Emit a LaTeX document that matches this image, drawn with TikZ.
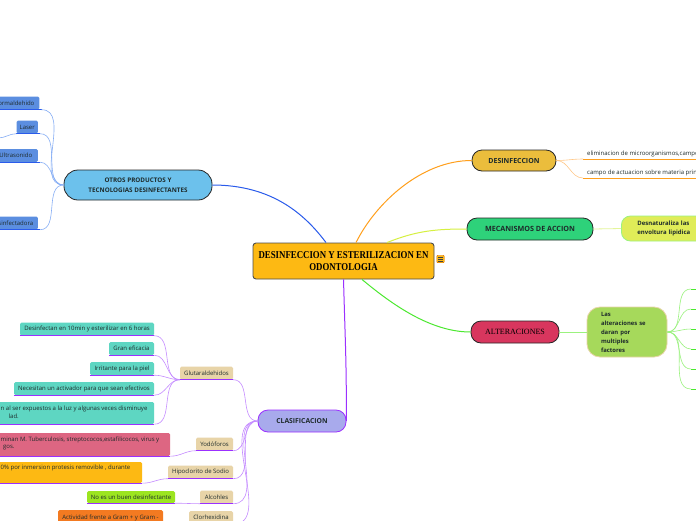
\documentclass[tikz,border=0pt]{standalone}
\usepackage{fontspec}
\setmainfont{Open Sans}
\newfontfamily\titlefont[FakeStretch=0.84]{Liberation Serif}
\newfontfamily\slabfont{Liberation Serif}
\newcommand\tinyfs{\fontsize{6}{7.5}\selectfont}
\definecolor{corange}{HTML}{FDB913}
\definecolor{cdes}{HTML}{EBBD3C}
\definecolor{cmec}{HTML}{2ED27A}
\definecolor{calt}{HTML}{D8365E}
\definecolor{cotr}{HTML}{6CC1EC}
\definecolor{ccla}{HTML}{A8AAEC}
\definecolor{cpur}{HTML}{9B30FF}
\definecolor{clpur}{HTML}{C58CFF}
\definecolor{cblue}{HTML}{2A5BEB}
\definecolor{clblue}{HTML}{86AEF5}
\definecolor{cbbox}{HTML}{5B8EE0}
\definecolor{cora}{HTML}{FF9F1C}
\definecolor{clora}{HTML}{FFC888}
\definecolor{cyg}{HTML}{D6F041}
\definecolor{clyg}{HTML}{E4F59A}
\definecolor{cgrn}{HTML}{4CE830}
\definecolor{clgrn}{HTML}{9BF27E}
\definecolor{cteal}{HTML}{5ED6C2}
\definecolor{cpink}{HTML}{DD6682}
\definecolor{clime}{HTML}{9CE520}
\definecolor{cor2}{HTML}{F37A21}
\definecolor{ctan}{HTML}{E8D4A8}
\definecolor{cmecc}{HTML}{E0EC58}
\definecolor{caltc}{HTML}{A6D95B}
\definecolor{txt}{HTML}{1E2B2B}
\definecolor{cborder}{HTML}{4D4D4D}
\begin{document}
\begin{tikzpicture}[x=1pt,y=-1pt,
  central/.style={draw=cborder, line width=0.9pt, fill=corange, rounded corners=3pt,
    minimum width=181, minimum height=36, align=center, inner sep=0pt, text=black,
    font=\titlefont\bfseries\fontsize{10.5}{11.5}\selectfont},
  mainbox/.style={draw=black!85, line width=0.8pt, rounded corners=10pt, minimum height=22,
    inner sep=0pt, text=txt, font=\bfseries\fontsize{7}{8}\selectfont},
  sub/.style={rounded corners=1.5pt, inner sep=0pt, minimum height=13, font=\tinyfs, text=txt},
  boxonly/.style={rounded corners=1.5pt, inner sep=0pt, anchor=west},
  ltext/.style={anchor=west, inner sep=0pt, font=\tinyfs, text=txt},
  pline/.style={clpur, line width=0.6pt},
  uline/.style={cpur, line width=1pt},
  bline/.style={clblue, line width=0.6pt},
  buline/.style={cblue, line width=1pt},
]
\useasboundingbox (0,0) rectangle (696,520);
\fill[white] (0,0) rectangle (696,520);

% central
\node[central] (c) at (343.5,261) {DESINFECCION Y ESTERILIZACION EN\\ODONTOLOGIA};
\node[draw=orange!85!black, fill=corange, rounded corners=1pt, minimum size=7.5pt, inner sep=0pt, line width=0.4pt] (icon) at (440.5,259) {};
\foreach \dy in {-1.8,0,1.8} \draw[black!75, line width=0.5pt] ([xshift=-2.2pt,yshift=\dy pt]icon.center) -- ([xshift=2.2pt,yshift=\dy pt]icon.center);

% main branches
\node[mainbox, fill=cdes, minimum width=84, minimum height=21] (des) at (514,160.5) {DESINFECCION};
\node[mainbox, fill=cmec, minimum width=126, font=\bfseries\fontsize{7.2}{8}\selectfont] (mec) at (530,229) {MECANISMOS DE ACCION};
\node[mainbox, fill=calt, minimum width=88, text=black, font=\slabfont\fontsize{8}{9}\selectfont] (alt) at (515,332) {ALTERACIONES};
\node[mainbox, fill=cotr, minimum width=148, minimum height=30, rounded corners=14pt, align=center,
  font=\bfseries\fontsize{6.3}{10}\selectfont] (otr) at (138,185) {OTROS PRODUCTOS Y\\TECNOLOGIAS DESINFECTANTES};
\node[mainbox, fill=ccla, draw=cpur, minimum width=88, font=\bfseries\fontsize{6.8}{8}\selectfont] (cla) at (302,421) {CLASIFICACION};

% main connectors
\draw[cblue, line width=1pt] (otr.east) .. controls +(60,0) and +(-21,-28) .. ([xshift=-17.5pt]c.north);
\draw[cora, line width=1pt] ([xshift=12.5pt]c.north) .. controls +(20,-40) and +(-50,0) .. (des.west);
\draw[cyg, line width=1pt] ([xshift=43.5pt]c.north) .. controls +(30,-12) and +(-30,0) .. (mec.west);
\draw[cgrn, line width=1pt] ([xshift=18.5pt]c.south) .. controls +(30,25) and +(-40,0) .. (alt.west);
\draw[cpur, line width=1pt] (c.south) .. controls +(2,70) and +(0,-60) .. (cla.east);

% DESINFECCION children
\coordinate (d1s) at (583,159);
\coordinate (d2s) at (583,178);
\coordinate (d1e) at (697,159);
\coordinate (d2e) at (697,178);
\node[ltext, anchor=base west] (d1) at (587,155.5) {eliminacion de microorganismos,campo};
\node[ltext, anchor=base west] (d2) at (587,174.5) {campo de actuacion sobre materia prin};
\draw[cora, line width=1pt] (d1s) -- (d1e);
\draw[cora, line width=1pt] (d2s) -- (d2e);
\draw[clora, line width=0.6pt] (des.east) to[out=0,in=180] (d1s);
\draw[clora, line width=0.6pt] (des.east) to[out=0,in=180] (d2s);

% MECANISMOS child
\node[anchor=west, fill=cmecc, draw=clgrn, line width=0.8pt, rounded corners=9pt, minimum height=25,
  inner xsep=16pt, inner ysep=0pt, text width=62, align=left, text=txt,
  font=\bfseries\fontsize{6}{8.5}\selectfont] (mc) at (621,228.5) {Desnaturaliza las\\envoltura lipidica};
\draw[clyg, line width=0.8pt] (mec.east) -- (mc.west);

% ALTERACIONES child
\node[fill=caltc, draw=ctan, line width=0.8pt, rounded corners=13pt, minimum width=80, minimum height=50,
  inner xsep=0pt, inner ysep=0pt, text width=52, align=left, text=txt,
  font=\bfseries\fontsize{5.9}{9}\selectfont] (ac) at (627,332) {Las\\alteraciones se\\daran por\\multiples\\factores};
\draw[clgrn, line width=0.8pt] (alt.east) -- (ac.west);
\foreach \i/\yy in {1/289,2/309,3/329,4/349,5/369,6/389}{
  \coordinate (g\i) at (691,\yy);
  \draw[clgrn, line width=0.6pt] (ac.east) to[out=0,in=180] (g\i);
  \draw[cgrn, line width=1pt] (g\i) -- ++(7,0);
}

% OTROS children
\node[sub, fill=cbbox, anchor=east, inner xsep=2pt, minimum width=46] (b1) at (39.5,103) {ormaldehido};
\node[sub, fill=cbbox, anchor=east, inner xsep=3pt] (b2) at (38,127) {Laser};
\node[sub, fill=cbbox, anchor=east, inner xsep=2.5pt, minimum width=44] (b3) at (38,155.5) {Ultrasonido};
\node[sub, fill=cbbox, anchor=east, inner xsep=2.5pt, minimum width=44] (b4) at (38,223) {sinfectadora};
\foreach \b in {b1,b2,b3,b4}{
  \draw[buline] (\b.south west) -- ([xshift=2pt]\b.south east);
  \draw[bline] (otr.west) to[out=180,in=0] ([xshift=2pt]\b.south east);
}
\coordinate (lx) at (-2,138);
\draw[bline] (b2.south west) to[out=180,in=0] (lx);

% CLASIFICACION children (tan)
\node[sub, fill=ctan, minimum width=53] (t1) at (206.5,373) {Glutaraldehidos};
\node[sub, fill=ctan, minimum width=37] (t2) at (214.5,444) {Yodóforos};
\node[sub, fill=ctan, minimum width=65] (t3) at (200.5,472) {Hipoclorito de Sodio};
\node[sub, fill=ctan, minimum width=33] (t4) at (216.5,497) {Alcohles};
\node[sub, fill=ctan, minimum width=44] (t5) at (211,517.5) {Clorhexidina};
\foreach \t in {t1,t2,t3,t4,t5}{
  \draw[uline] (\t.south west) -- (\t.south east);
  \draw[pline] (cla.west) to[out=180,in=0] (\t.south east);
}

% Glutaraldehidos children
\node[sub, fill=cteal, minimum width=134] (q1) at (87,329) {Desinfectan en 10min y esterilizar en 6 horas};
\node[sub, fill=cteal, minimum width=45] (q2) at (131.5,348.5) {Gran eficacia};
\node[sub, fill=cteal, minimum width=64] (q3) at (122,368.5) {Irritante para la piel};
\node[sub, fill=cteal, minimum width=140] (q4) at (84,388.5) {Necesitan un activador para que sean efectivos};
\node[boxonly, fill=cteal, minimum width=160, minimum height=22] (q5) at (-6,413) {};
\node[ltext] (q5a) at (0.5,409) {n al ser expuestos a la luz y algunas veces disminuye};
\node[ltext] (q5b) at (8.5,416.5) {lad.};
\foreach \q in {q1,q2,q3,q4,q5}{
  \draw[uline] (\q.south west) -- (\q.south east);
  \draw[pline] (t1.south west) to[out=180,in=0] (\q.south east);
}

% other children
\node[boxonly, fill=cpink, minimum width=176, minimum height=23] (p1) at (-6,444.5) {};
\node[ltext] (p1a) at (0.5,439.5) {minan M. Tuberculosis, streptococos,estafilicocos, virus y};
\node[ltext] (p1b) at (3,447.5) {gos.};
\node[boxonly, fill=corange, minimum width=148, minimum height=21] (p2) at (-6,472.5) {};
\node[ltext] (p2a) at (0.5,468) {0\% por inmersion protesis removible , durante};
\node[sub, fill=clime, minimum width=88, minimum height=12] (p3) at (131,497) {No es un buen desinfectante};
\node[sub, fill=cor2, minimum width=105, minimum height=16] (p4) at (110.5,518) {Actividad frente a Gram + y Gram -};
\draw[uline] (p1.south west) -- (p1.south east);
\draw[uline] (p2.south west) -- (p2.south east);
\draw[uline] (p3.south west) -- (p3.south east);
\draw[pline] (t2.south west) to[out=180,in=0] (p1.south east);
\draw[pline] (t3.south west) to[out=180,in=0] (p2.south east);
\draw[pline] (t4.south west) to[out=180,in=0] (p3.south east);
\end{tikzpicture}
\end{document}
